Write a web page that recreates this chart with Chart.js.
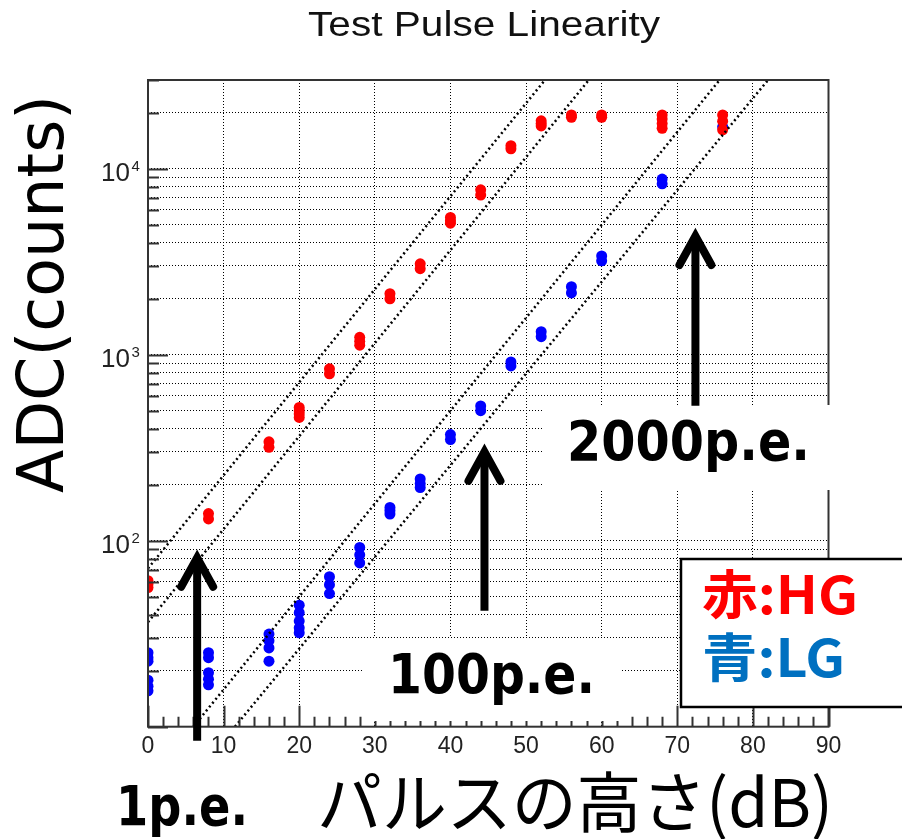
<!DOCTYPE html>
<html>
<head>
<meta charset="utf-8">
<script src="https://cdn.jsdelivr.net/npm/chart.js@4.4.0/dist/chart.umd.min.js"></script>
<style>
  html, body { margin: 0; background: #fff; }
  #wrap { width: 902px; height: 839px; }
</style>
</head>
<body>
<div id="wrap"><canvas id="linearity" width="902" height="839"></canvas></div>
<script>
// test pulse heights (dB) and ADC readings, several runs per setting
const hgDb  = [0, 8, 16, 20, 24, 28, 32, 36, 40, 44, 48, 52, 56, 60, 68, 76];
const hgAdc = [
  [61, 58.5, 56], [140, 131], [340, 318], [521, 500, 480, 460],
  [840, 790], [1240, 1180, 1125], [2130, 2000], [3080, 2900],
  [5470, 5250, 5100], [7700, 7220], [13300, 12800], [18100, 17500, 17000],
  [19450, 18900], [19450, 18900], [19450, 18500, 17500, 16500], [19450, 18000, 16200]
];
const lgDb  = [0, 8, 16, 20, 24, 28, 32, 36, 40, 44, 48, 52, 56, 60, 68, 76];
const lgAdc = [
  [25, 23.5, 22.5, 17.8, 16.5, 15.6], [25, 23.5, 19.5, 18, 16.8], [31.5, 29, 26.5, 22.5],
  [45, 41, 37, 34, 32], [64, 58, 52], [92, 84, 76], [151, 145, 139], [215, 203, 193],
  [372, 350], [530, 500], [915, 870], [1330, 1250], [2320, 2150], [3400, 3200],
  [8800, 8300], [16800]
];
// dotted reference lines: start/end in dB and ADC
const refLineDb  = [[0, 52.5], [0, 58.3], [6, 75.6], [11.5, 82]];
const refLineAdc = [[71, 30000], [36.5, 30000], [10, 30000], [10, 30000]];

const xTickDb = [0, 10, 20, 30, 40, 50, 60, 70, 80, 90];
const yDecades = [2, 3, 4];
const yMin = 10, yMax = 30000;

// arrows: dB position, ADC of tip and tail
const arrowDb = [6.5, 44.5, 72.4];
const arrowTip = [83, 308, 4457];
const arrowTail = [8.4, 42, 532];

const yTickValues = [];
for (let e = 1; e <= 4; e++) {
  for (let m = 1; m <= 9; m++) {
    const v = m * Math.pow(10, e);
    if (v <= yMax) yTickValues.push(v);
  }
}

const toPoints = (db, adc) => db.flatMap((d, i) => adc[i].map(v => ({ x: d, y: v })));

const refSets = refLineDb.map((d, i) => ({
  type: 'line',
  data: [{ x: d[0], y: refLineAdc[i][0] }, { x: d[1], y: refLineAdc[i][1] }],
  borderColor: '#000',
  borderWidth: 2.5,
  borderDash: [2, 3],
  pointRadius: 0,
  fill: false
}));

function fitText(ctx, text, x, y, font, width, color) {
  ctx.save();
  ctx.font = font;
  const w = ctx.measureText(text).width;
  ctx.translate(x, y);
  ctx.scale(width / w, 1);
  ctx.fillStyle = color;
  ctx.textAlign = 'left';
  ctx.textBaseline = 'alphabetic';
  ctx.fillText(text, 0, 0);
  ctx.restore();
}

const overlay = {
  id: 'overlay',
  beforeDraw(chart) {
    const ctx = chart.ctx;
    ctx.save();
    ctx.fillStyle = '#fff';
    ctx.fillRect(0, 0, chart.width, chart.height);
    ctx.restore();
  },
  afterDraw(chart) {
    const { ctx, chartArea: a, scales: { x, y } } = chart;
    ctx.save();

    // frame
    ctx.strokeStyle = '#333';
    ctx.lineWidth = 2;
    ctx.strokeRect(a.left, a.top, a.right - a.left, a.bottom - a.top);

    // ticks inside the frame
    ctx.strokeStyle = '#333';
    ctx.beginPath();
    yTickValues.forEach(v => {
      const py = Math.round(y.getPixelForValue(v)) + 0.5;
      const major = Math.abs(Math.log10(v) % 1) < 1e-9;
      ctx.moveTo(a.left, py);
      ctx.lineTo(a.left + (major ? 20 : 11), py);
    });
    for (let d = 0; d <= 90; d += 2) {
      const px = Math.round(x.getPixelForValue(d)) + 0.5;
      ctx.moveTo(px, a.bottom);
      ctx.lineTo(px, a.bottom - (d % 10 === 0 ? 21 : 10));
    }
    ctx.stroke();

    // tick labels
    ctx.fillStyle = '#222';
    ctx.font = '23px "Liberation Sans", Arial, sans-serif';
    ctx.textAlign = 'center';
    ctx.textBaseline = 'alphabetic';
    xTickDb.forEach(d => ctx.fillText(String(d), x.getPixelForValue(d), 753));
    yDecades.forEach(e => {
      const py = y.getPixelForValue(Math.pow(10, e));
      ctx.font = '26px "Liberation Sans", Arial, sans-serif';
      ctx.textAlign = 'right';
      ctx.fillText('10', 130, py + 12.5);
      ctx.font = '15px "Liberation Sans", Arial, sans-serif';
      ctx.textAlign = 'left';
      ctx.fillText(String(e), 131.5, py + 2.5);
    });

    // white backgrounds of the pasted labels
    ctx.fillStyle = '#fff';
    ctx.fillRect(543, 405, 302, 85);
    ctx.fillRect(363, 638, 259, 83);

    // arrows
    ctx.strokeStyle = '#000';
    ctx.lineWidth = 8;
    arrowDb.forEach((d, i) => {
      const px = x.getPixelForValue(d);
      const tip = y.getPixelForValue(arrowTip[i]);
      const tail = y.getPixelForValue(arrowTail[i]);
      ctx.lineCap = 'butt';
      ctx.beginPath();
      ctx.moveTo(px, tip + 4);
      ctx.lineTo(px, tail);
      ctx.stroke();
      ctx.lineCap = 'round';
      ctx.lineJoin = 'miter';
      ctx.beginPath();
      ctx.moveTo(px - 16, tip + 31);
      ctx.lineTo(px, tip + 2);
      ctx.lineTo(px + 16, tip + 31);
      ctx.stroke();
    });

    // texts
    fitText(ctx, 'Test Pulse Linearity', 308, 36, '35px "Liberation Sans", Arial, sans-serif', 352, '#111');
    ctx.save();
    ctx.translate(63, 493);
    ctx.rotate(-Math.PI / 2);
    fitText(ctx, 'ADC(counts)', 0, 0, '64px "DejaVu Sans", sans-serif', 398, '#000');
    ctx.restore();
    const bold = 'bold 55px "DejaVu Sans", sans-serif';
    fitText(ctx, '2000p.e.', 567, 460, bold, 243, '#000');
    fitText(ctx, '100p.e.', 388, 693, bold, 207, '#000');
    fitText(ctx, '1p.e.', 116, 825, bold, 132, '#000');
    fitText(ctx, 'パルスの高さ(dB)', 317, 827, '66px "Noto Sans CJK JP", sans-serif', 516, '#000');

    // legend box
    ctx.fillStyle = '#fff';
    ctx.fillRect(681, 559, 230, 148);
    ctx.strokeStyle = '#000';
    ctx.lineWidth = 2.5;
    ctx.strokeRect(681, 559, 230, 148);
    const cjkBold = 'bold 52px "Noto Sans CJK JP", sans-serif';
    fitText(ctx, '赤:HG', 702, 614, cjkBold, 156, '#ff0000');
    fitText(ctx, '青:LG', 702, 677, cjkBold, 143, '#0070c0');

    ctx.restore();
  }
};

new Chart(document.getElementById('linearity'), {
  type: 'scatter',
  data: {
    datasets: [
      ...refSets,
      {
        label: 'HG',
        data: toPoints(hgDb, hgAdc),
        backgroundColor: '#ff0000',
        borderWidth: 0,
        pointRadius: 5.5
      },
      {
        label: 'LG',
        data: toPoints(lgDb, lgAdc),
        backgroundColor: '#0000ff',
        borderWidth: 0,
        pointRadius: 5.5
      }
    ]
  },
  options: {
    responsive: false,
    animation: false,
    devicePixelRatio: 1,
    layout: { padding: { left: 148, top: 80, right: 73.5, bottom: 112.3 } },
    plugins: {
      legend: { display: false },
      tooltip: { enabled: false },
      title: { display: false }
    },
    scales: {
      x: {
        type: 'linear',
        min: 0,
        max: 90,
        afterBuildTicks: s => { s.ticks = xTickDb.map(v => ({ value: v })); },
        afterFit: s => { s.height = 0; },
        ticks: { display: false },
        grid: { color: '#000', lineWidth: 1, drawTicks: false },
        border: { display: false, dash: [1, 2] }
      },
      y: {
        type: 'logarithmic',
        min: yMin,
        max: yMax,
        afterBuildTicks: s => { s.ticks = yTickValues.map(v => ({ value: v })); },
        afterFit: s => { s.width = 0; },
        ticks: { display: false },
        grid: { color: '#000', lineWidth: 1, drawTicks: false },
        border: { display: false, dash: [1, 2] }
      }
    }
  },
  plugins: [overlay]
});
</script>
</body>
</html>
